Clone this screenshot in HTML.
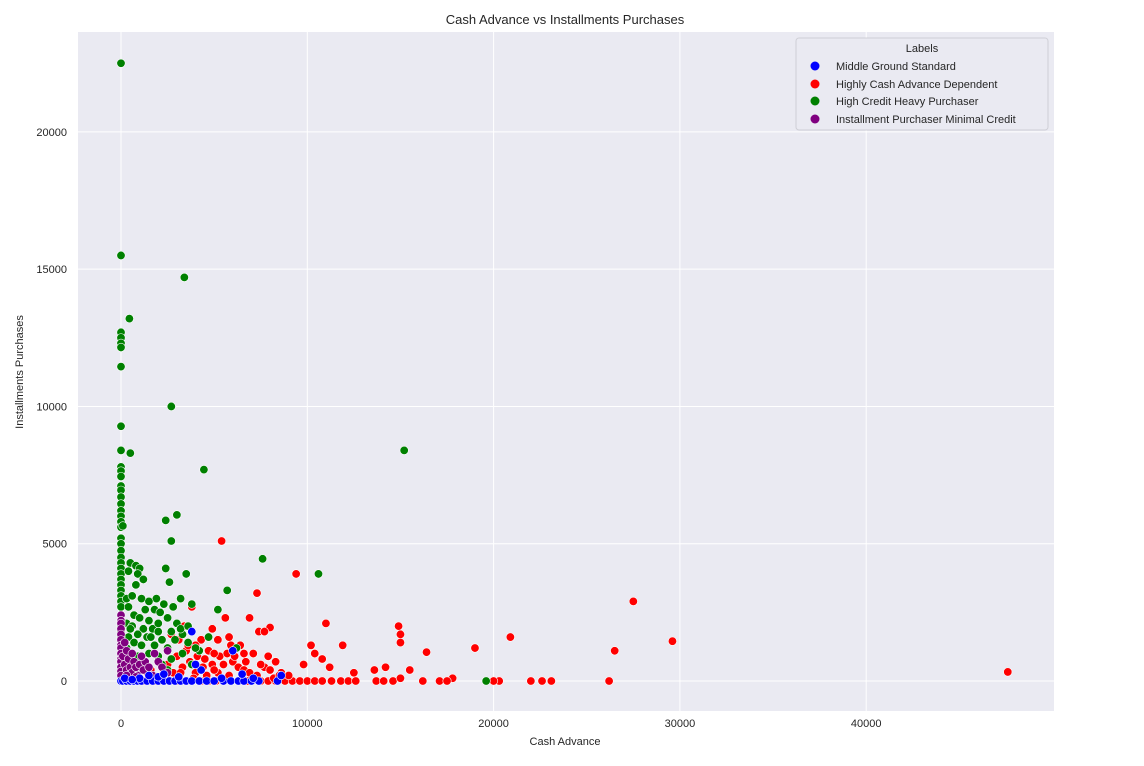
<!DOCTYPE html>
<html><head><meta charset="utf-8"><style>
body{margin:0;background:#fff;font-family:"Liberation Sans",Arial,sans-serif}
svg text{font-family:"Liberation Sans",Arial,sans-serif;fill:#262626}
</style></head><body>
<svg id="chart" width="1144" height="761" xmlns="http://www.w3.org/2000/svg">
<rect x="0" y="0" width="1144" height="761" fill="#fff"/>
<rect x="78" y="32" width="976" height="679" fill="#eaeaf2"/>
<g id="grid"></g>
<g id="ticks"></g>
<g id="marks"></g>
<text x="565" y="24" text-anchor="middle" font-size="13">Cash Advance vs Installments Purchases</text>
<text x="565" y="745" text-anchor="middle" font-size="11">Cash Advance</text>
<text x="23" y="372" text-anchor="middle" font-size="11" transform="rotate(-90 23 372)">Installments Purchases</text>
<g>
<rect x="796" y="38" width="252" height="92" rx="3" fill="#eaeaf2" stroke="#cfcfd6"/>
<text x="922" y="52" text-anchor="middle" font-size="11">Labels</text>
<circle cx="815" cy="66" r="4.5" fill="#0000ff"/>
<text x="836" y="70" font-size="11">Middle Ground Standard</text>
<circle cx="815" cy="84" r="4.5" fill="#ff0000"/>
<text x="836" y="88" font-size="11">Highly Cash Advance Dependent</text>
<circle cx="815" cy="101" r="4.5" fill="#008000"/>
<text x="836" y="105" font-size="11">High Credit Heavy Purchaser</text>
<circle cx="815" cy="119" r="4.5" fill="#800080"/>
<text x="836" y="123" font-size="11">Installment Purchaser Minimal Credit</text>
</g>
</svg>
<script>
const xTicks=[0,10000,20000,30000,40000];
const yTicks=[0,5000,10000,15000,20000];
const greenPts=[[0,22500],[0,15500],[3400,14700],[450,13200],[0,12700],[0,12500],[0,12300],[0,12150],[0,11450],[2700,10000],[0,9280],[0,8400],[500,8300],[15200,8400],[4450,7700],[0,7800],[0,7650],[0,7450],[0,7100],[0,6950],[0,6700],[0,6450],[0,6200],[0,6000],[0,5800],[0,5600],[100,5650],[3000,6050],[2400,5850],[2700,5100],[0,5200],[0,5000],[0,4750],[0,4500],[0,4300],[0,4100],[0,3900],[0,3700],[0,3500],[0,3300],[0,3100],[0,2900],[0,2700],[7600,4450],[10600,3900],[3500,3900],[5700,3300],[5200,2600],[500,4300],[800,4200],[1000,4100],[400,4000],[900,3900],[1200,3700],[800,3500],[2400,4100],[2600,3600],[3200,3000],[3800,2800],[300,3000],[600,3100],[1100,3000],[1900,3000],[1500,2900],[2300,2800],[2800,2700],[400,2700],[1300,2600],[1800,2600],[2100,2500],[700,2400],[1000,2300],[1500,2200],[2500,2300],[3000,2100],[300,2100],[600,2000],[1200,1900],[1700,1900],[2000,1800],[2700,1800],[3300,1700],[900,1700],[400,1600],[1400,1600],[2200,1500],[2900,1500],[3600,1400],[700,1400],[1100,1300],[1800,1300],[2500,1200],[300,1200],[4200,1100],[3300,1000],[1500,1000],[2000,900],[900,900],[2700,800],[3800,600],[1300,700],[2200,600],[6200,1200],[4700,1600],[19600,0],[3200,1900],[2000,2100],[1600,1600],[500,1900],[0,2200],[0,2000],[0,1800],[0,1600],[4000,1200],[3600,2000],[2500,400]];
const redPts=[[5400,5100],[9400,3900],[7300,3200],[27500,2900],[29600,1450],[20900,1600],[16400,1050],[19000,1200],[26500,1100],[47600,330],[14900,2000],[15000,1700],[15000,1400],[11000,2100],[11900,1300],[8000,1950],[7400,1800],[7700,1800],[6900,2300],[5800,1600],[5600,2300],[4900,1900],[3800,2700],[3400,2000],[4300,1500],[5200,1500],[6400,1300],[7100,1000],[6700,700],[7900,900],[8300,700],[9800,600],[10200,1300],[10400,1000],[10800,800],[11200,500],[12500,300],[13600,400],[14200,500],[15500,400],[14600,0],[15000,100],[17800,100],[16200,0],[17100,0],[17500,0],[20300,0],[20000,0],[22000,0],[22600,0],[23100,0],[26200,0],[4300,0],[4700,0],[5100,0],[5500,0],[6300,0],[6800,0],[7500,0],[7900,0],[8300,0],[8800,0],[9200,0],[9600,0],[10000,0],[10400,0],[10800,0],[11300,0],[11800,0],[12200,0],[12600,0],[13700,0],[14100,0],[9000,200],[8600,300],[8200,100],[2800,300],[3300,500],[3700,700],[4100,900],[4500,800],[4900,600],[5300,900],[5700,1000],[6000,700],[6300,500],[6600,400],[6900,300],[7300,200],[7700,500],[4000,300],[4600,200],[5200,300],[5800,200],[2200,200],[2500,600],[3000,900],[3500,1100],[4000,1300],[4700,1100],[5500,600],[6100,900],[1600,400],[2000,700],[3200,300],[3900,100],[4400,500],[5000,1000],[5900,1300],[6600,1000],[7500,600],[8000,400],[8500,200],[3100,1500],[3600,1300],[2700,1700],[5000,400],[4200,0],[3000,0],[3500,0],[2600,0],[1200,0],[1800,0],[2100,100],[1400,300]];
const purplePts=[[0,2400],[0,2200],[0,2100],[0,1900],[0,1700],[0,1500],[0,1300],[0,1200],[0,1000],[0,800],[0,700],[0,500],[0,350],[0,200],[100,900],[200,600],[300,400],[400,800],[500,500],[600,300],[700,700],[800,500],[900,200],[1000,600],[1200,400],[1300,700],[1500,500],[1700,200],[2000,700],[2200,500],[2500,1100],[2500,300],[1800,1000],[300,1100],[600,1000],[1100,900],[300,200],[200,1400],[800,150],[2300,100]];
const bluePts=[[0,0],[100,0],[300,0],[500,0],[700,0],[900,0],[1100,0],[1400,0],[1700,0],[2000,0],[2300,0],[2600,0],[2900,0],[3200,0],[3500,0],[3800,0],[4200,0],[4600,0],[5000,0],[5500,0],[5900,0],[6300,0],[6600,0],[7000,0],[7400,0],[8400,0],[8600,200],[3800,1800],[6000,1100],[4300,400],[2000,150],[2300,250],[6500,250],[5400,100],[7100,100],[1000,100],[1500,200],[4000,600],[3100,150],[200,100],[600,50]];

const NS='http://www.w3.org/2000/svg';
const X0=78,X1=1054,Y0=32,Y1=711;
function sx(v){return 121+v*0.018630;}
function sy(v){return 681-v*0.027455;}
const grid=document.getElementById('grid'),ticks=document.getElementById('ticks'),marks=document.getElementById('marks');
xTicks.forEach(t=>{
 const l=document.createElementNS(NS,'line');
 
 
 l.setAttribute('x1',sx(t));l.setAttribute('x2',sx(t));l.setAttribute('y1',Y0);l.setAttribute('y2',Y1);
 l.setAttribute('stroke','#fff');l.setAttribute('stroke-width','1');grid.appendChild(l);
 const tx=document.createElementNS(NS,'text');
 
 
 tx.setAttribute('x',sx(t));tx.setAttribute('y',727);tx.setAttribute('text-anchor','middle');tx.setAttribute('font-size','11');
 tx.textContent=t;ticks.appendChild(tx);
});
yTicks.forEach(t=>{
 const l=document.createElementNS(NS,'line');
 
 
 l.setAttribute('x1',X0);l.setAttribute('x2',X1);l.setAttribute('y1',sy(t));l.setAttribute('y2',sy(t));
 l.setAttribute('stroke','#fff');l.setAttribute('stroke-width','1');grid.appendChild(l);
 const tx=document.createElementNS(NS,'text');
 
 
 tx.setAttribute('x',67);tx.setAttribute('y',sy(t)+4);tx.setAttribute('text-anchor','end');tx.setAttribute('font-size','11');
 tx.textContent=t;ticks.appendChild(tx);
});
function draw(pts,color,name){
 pts.forEach(p=>{
  const c=document.createElementNS(NS,'circle');
  
  
  c.setAttribute('cx',sx(p[0]));c.setAttribute('cy',sy(p[1]));c.setAttribute('r','4.2');
  c.setAttribute('fill',color);c.setAttribute('stroke','#fff');c.setAttribute('stroke-width','0.6');
  marks.appendChild(c);
 });
}
draw(redPts,'#ff0000','point-cash-advance-dependent');
draw(greenPts,'#008000','point-heavy-purchaser');
draw(purplePts,'#800080','point-installment-purchaser');
draw(bluePts,'#0000ff','point-middle-ground');
</script>
</body></html>
